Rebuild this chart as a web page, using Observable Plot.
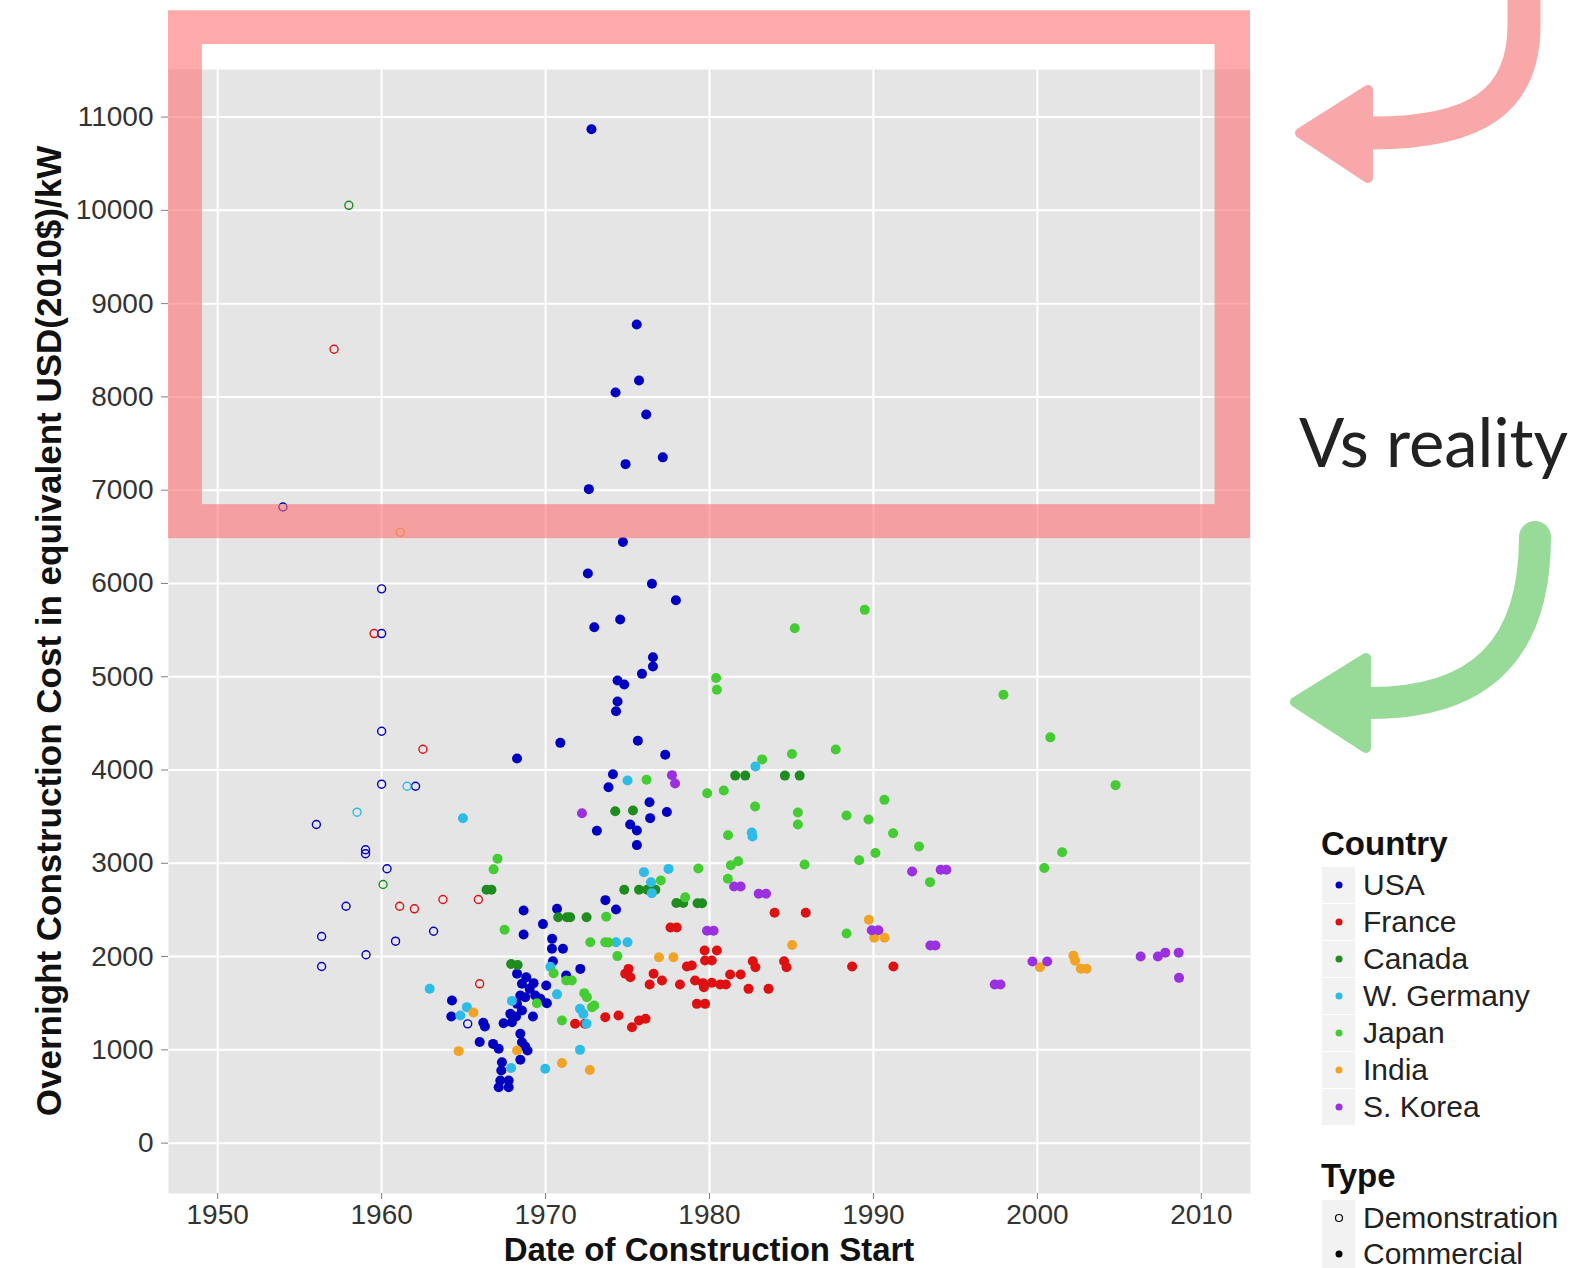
<!DOCTYPE html>
<html><head><meta charset="utf-8">
<script src="https://cdn.jsdelivr.net/npm/d3@7"></script>
<script src="https://cdn.jsdelivr.net/npm/@observablehq/plot@0.6"></script>
<style>html,body{margin:0;padding:0;background:#fff;} svg{display:block;}</style>
</head><body><div id="chart"></div>
<script>
// ---------- data: [year of construction start, overnight cost 2010$/kW] ----------
const countries = ["USA", "France", "Canada", "W. Germany", "Japan", "India", "S. Korea"];
const countryColors = ["#0000c0", "#dd1111", "#1e8c1e", "#2dbbe8", "#44cc33", "#f0a324", "#9a30e0"];
const typeLabels = ["Demonstration", "Commercial"];

const usaCommercial = [
  [1972.8,10870],[1975.56,8776],[1975.7,8175],[1974.27,8048],[1976.14,7811],[1977.15,7352],[1974.88,7279],
  [1972.64,7011],[1974.72,6445],[1972.58,6106],[1976.49,5996],[1977.95,5820],[1974.55,5613],[1972.97,5530],
  [1976.55,5209],[1976.55,5109],[1975.88,5031],[1974.39,4959],[1974.8,4916],[1974.39,4734],[1974.3,4630],
  [1970.9,4291],[1975.63,4313],[1977.3,4163],[1968.26,4123],[1974.11,3955],[1973.84,3816],[1976.34,3655],
  [1977.4,3550],[1976.38,3484],[1975.16,3416],[1975.57,3352],[1973.13,3348],[1975.57,3195],[1973.65,2605],
  [1974.3,2505],[1970.7,2512],[1968.66,2494],[1969.84,2348],[1968.66,2237],[1970.4,2190],[1970.39,2083],
  [1971.06,2083],[1972.12,1868],[1971.26,1797],[1970.45,1950],[1964.29,1530],[1964.25,1358],[1966.2,1290],
  [1966.3,1250],[1965.98,1085],[1966.8,1064],[1967.14,1011],[1968.46,1172],[1968.56,1082],[1968.76,1036],
  [1968.9,993],[1968.46,893],[1967.34,868],[1967.3,779],[1967.24,671],[1967.14,600],[1967.75,671],
  [1967.75,600],[1967.44,1286],[1967.95,1297],[1968.2,1358],[1967.85,1386],[1969.23,1358],[1968.26,1815],
  [1968.82,1779],[1968.56,1708],[1969.03,1654],[1968.46,1583],[1968.76,1565],[1968.26,1493],[1968.56,1422],
  [1969.37,1583],[1970.08,1500],[1970.04,1690],[1969.68,1547],[1969.27,1715]
];
const usaDemo = [
  [1953.98,6820],[1960.0,5942],[1960.0,5463],[1960.0,4416],[1960.0,3848],[1962.07,3826],[1956.02,3416],
  [1959.02,3145],[1959.02,3102],[1960.33,2941],[1957.83,2540],[1956.34,2215],[1960.85,2165],[1963.17,2272],
  [1959.05,2019],[1956.34,1894],[1965.25,1279]
];
const franceCommercial = [
  [1983.97,2470],[1985.87,2470],[1977.62,2312],[1978.0,2312],[1979.7,2065],[1980.45,2065],[1979.73,1958],
  [1980.14,1958],[1978.92,1904],[1979.12,1743],[1979.6,1715],[1980.14,1720],[1980.65,1700],[1981.0,1700],
  [1981.26,1807],[1981.9,1807],[1982.64,1950],[1982.8,1886],[1984.55,1950],[1984.7,1886],[1982.38,1654],
  [1983.6,1654],[1988.7,1893],[1991.22,1893],[1979.23,1493],[1979.73,1493],[1975.06,1868],[1974.86,1815],
  [1975.17,1779],[1976.59,1815],[1976.35,1700],[1977.1,1743],[1978.2,1700],[1978.62,1893],[1971.8,1279],
  [1972.4,1279],[1973.64,1350],[1974.45,1368],[1975.27,1243],[1975.7,1315],[1976.1,1333],[1979.66,1672]
];
const franceDemo = [
  [1957.1,8511],[1959.54,5463],[1962.52,4223],[1961.1,2540],[1962.0,2512],[1963.74,2612],[1965.9,2612],[1965.98,1708]
];
const canadaCommercial = [
  [1966.4,2716],[1966.7,2716],[1970.77,2422],[1971.3,2422],[1971.5,2422],[1972.5,2422],[1974.8,2716],
  [1975.7,2716],[1976.2,2716],[1976.7,2716],[1977.98,2575],[1978.4,2575],[1979.27,2572],[1979.55,2572],
  [1974.25,3558],[1975.33,3566],[1981.57,3940],[1982.18,3940],[1984.6,3940],[1985.5,3940],[1967.9,1920],[1968.3,1910]
];
const canadaDemo = [[1958.0,10054],[1960.09,2773]];
const germanyCommercial = [
  [1964.96,3483],[1975.0,3887],[1982.8,4037],[1982.58,3330],[1982.62,3288],[1976.0,2905],[1977.5,2940],
  [1976.43,2797],[1976.48,2680],[1974.3,2154],[1975.0,2154],[1970.29,1890],[1970.7,1595],[1972.1,1440],
  [1972.3,1386],[1972.5,1280],[1967.95,1525],[1965.2,1458],[1964.8,1368],[1972.1,1000],[1969.98,797],
  [1967.9,805],[1962.93,1655]
];
const germanyDemo = [[1961.55,3826],[1958.5,3548]];
const japanCommercial = [
  [1989.47,5717],[1985.2,5520],[1980.4,4987],[1980.45,4860],[1997.93,4806],[2000.79,4350],[1987.7,4220],
  [1985.03,4172],[1983.21,4114],[2004.77,3838],[1976.16,3896],[1979.86,3750],[1980.87,3780],[1982.78,3609],
  [1985.39,3545],[1985.39,3416],[1988.36,3512],[1989.7,3469],[1990.67,3680],[1981.13,3300],[1991.2,3323],
  [1992.78,3180],[2001.51,3119],[1989.13,3033],[1990.12,3110],[1985.8,2988],[2000.42,2950],[1993.45,2798],
  [1981.3,2980],[1981.75,3022],[1981.12,2835],[1979.32,2944],[1977.03,2816],[1978.52,2635],[1988.36,2247],
  [1967.07,3050],[1966.83,2935],[1967.5,2287],[1973.7,2428],[1972.73,2154],[1973.64,2154],[1973.84,2150],
  [1974.38,2005],[1970.49,1822],[1971.26,1743],[1971.6,1743],[1972.36,1608],[1972.52,1565],[1972.97,1475],
  [1972.83,1458],[1971.0,1315],[1969.47,1500]
];
const indiaCommercial = [
  [1989.72,2395],[1985.04,2124],[1990.05,2201],[1990.68,2201],[1976.92,1993],[1977.8,1993],[2000.16,1886],
  [2002.2,2010],[2002.3,1955],[2002.65,1869],[2003.0,1869],[1965.6,1400],[1964.7,986],[1968.26,993],
  [1971.0,860],[1972.7,784]
];
const indiaDemo = [[1961.14,6548]];
const koreaCommercial = [
  [1972.22,3537],[1977.71,3945],[1977.9,3855],[1981.5,2751],[1981.9,2751],[1983.0,2674],[1983.45,2674],
  [1979.85,2276],[1980.25,2276],[1989.9,2283],[1990.3,2283],[1992.36,2913],[1994.1,2930],[1994.45,2930],
  [1993.47,2118],[1993.78,2118],[1997.4,1701],[1997.75,1701],[1999.7,1948],[2000.6,1948],[2006.3,2001],
  [2007.35,2001],[2007.8,2042],[2008.62,2042],[2008.64,1772]
];

const xTicks = [1950, 1960, 1970, 1980, 1990, 2000, 2010];
const yTicks = [0, 1000, 2000, 3000, 4000, 5000, 6000, 7000, 8000, 9000, 10000, 11000];

// highlighted zone (pink frame) in data units
const frameOuter = {x1: 1947, x2: 2013, y1: 6480, y2: 12140};
const frameInner = {x1: 1949.07, x2: 2010.84, y1: 6845, y2: 11778};

// ---------- build rows ----------
const series = [
  ["USA", "Commercial", usaCommercial], ["USA", "Demonstration", usaDemo],
  ["France", "Commercial", franceCommercial], ["France", "Demonstration", franceDemo],
  ["Canada", "Commercial", canadaCommercial], ["Canada", "Demonstration", canadaDemo],
  ["W. Germany", "Commercial", germanyCommercial], ["W. Germany", "Demonstration", germanyDemo],
  ["Japan", "Commercial", japanCommercial], ["India", "Commercial", indiaCommercial],
  ["India", "Demonstration", indiaDemo], ["S. Korea", "Commercial", koreaCommercial]
];
const rows = series.flatMap(([country, type, arr]) => arr.map(([year, cost]) => ({country, type, year, cost})));
const demo = rows.filter(d => d.type === "Demonstration");
const commercial = rows.filter(d => d.type === "Commercial");

const bands = [
  {x1: frameOuter.x1, x2: frameOuter.x2, y1: frameInner.y2, y2: frameOuter.y2},
  {x1: frameOuter.x1, x2: frameOuter.x2, y1: frameOuter.y1, y2: frameInner.y1},
  {x1: frameOuter.x1, x2: frameInner.x1, y1: frameInner.y1, y2: frameInner.y2},
  {x1: frameInner.x2, x2: frameOuter.x2, y1: frameInner.y1, y2: frameInner.y2}
];

const chart = Plot.plot({
  width: 1584, height: 1268,
  marginLeft: 168, marginRight: 334, marginTop: 69, marginBottom: 75,
  style: {fontFamily: "'Liberation Sans', Arial, sans-serif", fontSize: "28px", background: "#fff", overflow: "visible"},
  x: {domain: [1947, 2013], label: null},
  y: {domain: [-540, 11510], label: null},
  color: {domain: countries, range: countryColors},
  marks: [
    Plot.frame({fill: "#e5e5e5", stroke: null}),
    Plot.gridX({ticks: xTicks, stroke: "#fff", strokeOpacity: 1, strokeWidth: 2}),
    Plot.gridY({ticks: yTicks, stroke: "#fff", strokeOpacity: 1, strokeWidth: 2}),
    Plot.axisX({ticks: xTicks, tickFormat: d3.format("d"), tickSize: 6, tickPadding: 5, fontSize: 28, stroke: "#7f7f7f", fill: "#333", label: null}),
    Plot.axisY({ticks: yTicks, tickFormat: d3.format("d"), tickSize: 7, tickPadding: 8, fontSize: 28, stroke: "#7f7f7f", fill: "#333", label: null}),
    Plot.dot(demo, {x: "year", y: "cost", stroke: "country", r: 4, strokeWidth: 1.4, fill: "none"}),
    Plot.dot(commercial, {x: "year", y: "cost", fill: "country", r: 5, stroke: null}),
    Plot.rect(bands, {x1: "x1", x2: "x2", y1: "y1", y2: "y2", fill: "#ff7171", fillOpacity: 0.6, inset: 0})
  ]
});
document.getElementById("chart").appendChild(chart);

// ---------- annotations, titles, legend ----------
const svg = d3.select(chart);
const xs = chart.scale("x"), ys = chart.scale("y");
const midX = (xs.apply(1947) + xs.apply(2013)) / 2;
const midY = (ys.apply(-540) + ys.apply(11510)) / 2;

svg.append("text").attr("x", midX).attr("y", 1261).attr("text-anchor", "middle")
  .attr("font-size", 33).attr("font-weight", "bold").attr("fill", "#111")
  .text("Date of Construction Start");
svg.append("text").attr("transform", `translate(61,${midY}) rotate(-90)`).attr("text-anchor", "middle")
  .attr("font-size", 35).attr("font-weight", "bold").attr("fill", "#111")
  .text("Overnight Construction Cost in equivalent USD(2010$)/kW");

// arrows
const g = svg.append("g");
g.append("path").attr("d", "M1524,-20 L1524,25 C1524,100 1478,133 1372,133")
  .attr("fill", "none").attr("stroke", "#f8a8a8").attr("stroke-width", 33);
g.append("path").attr("d", "M1300,133 L1368,90 L1368,178 Z")
  .attr("fill", "#f8a8a8").attr("stroke", "#f8a8a8").attr("stroke-width", 10).attr("stroke-linejoin", "round");
g.append("path").attr("d", "M1535,537 C1535,650 1480,703 1370,703")
  .attr("fill", "none").attr("stroke", "#98da98").attr("stroke-width", 32).attr("stroke-linecap", "round");
g.append("path").attr("d", "M1295,702 L1366,658 L1366,748 Z")
  .attr("fill", "#98da98").attr("stroke", "#98da98").attr("stroke-width", 10).attr("stroke-linejoin", "round");
g.append("text").attr("x", 1299).attr("y", 467).attr("text-anchor", "start").attr("font-family", "Lato, 'Open Sans', sans-serif")
  .attr("font-size", 67).attr("fill", "#222").text("Vs reality");

// legend
const lg = svg.append("g").attr("font-family", "'Liberation Sans', Arial, sans-serif").attr("text-anchor", "start");
lg.append("text").attr("x", 1321).attr("y", 855).attr("font-size", 33).attr("font-weight", "bold").attr("fill", "#111").text("Country");
countries.forEach((c, i) => {
  const base = 895 + i * 37;
  lg.append("rect").attr("x", 1322).attr("y", base - 28).attr("width", 33).attr("height", 36).attr("fill", "#f2f2f2");
  lg.append("circle").attr("cx", 1339).attr("cy", base - 10).attr("r", 3.5).attr("fill", countryColors[i]);
  lg.append("text").attr("x", 1363).attr("y", base).attr("font-size", 30).attr("fill", "#222").text(c);
});
lg.append("text").attr("x", 1321).attr("y", 1187).attr("font-size", 33).attr("font-weight", "bold").attr("fill", "#111").text("Type");
typeLabels.forEach((t, i) => {
  const base = 1228 + i * 36;
  lg.append("rect").attr("x", 1322).attr("y", base - 28).attr("width", 33).attr("height", 36).attr("fill", "#f2f2f2");
  lg.append("circle").attr("cx", 1339).attr("cy", base - 10).attr("r", 3.5)
    .attr("fill", i === 0 ? "none" : "#000").attr("stroke", "#000").attr("stroke-width", i === 0 ? 1.2 : 0);
  lg.append("text").attr("x", 1363).attr("y", base).attr("font-size", 30).attr("fill", "#222").text(t);
});
</script></body></html>
